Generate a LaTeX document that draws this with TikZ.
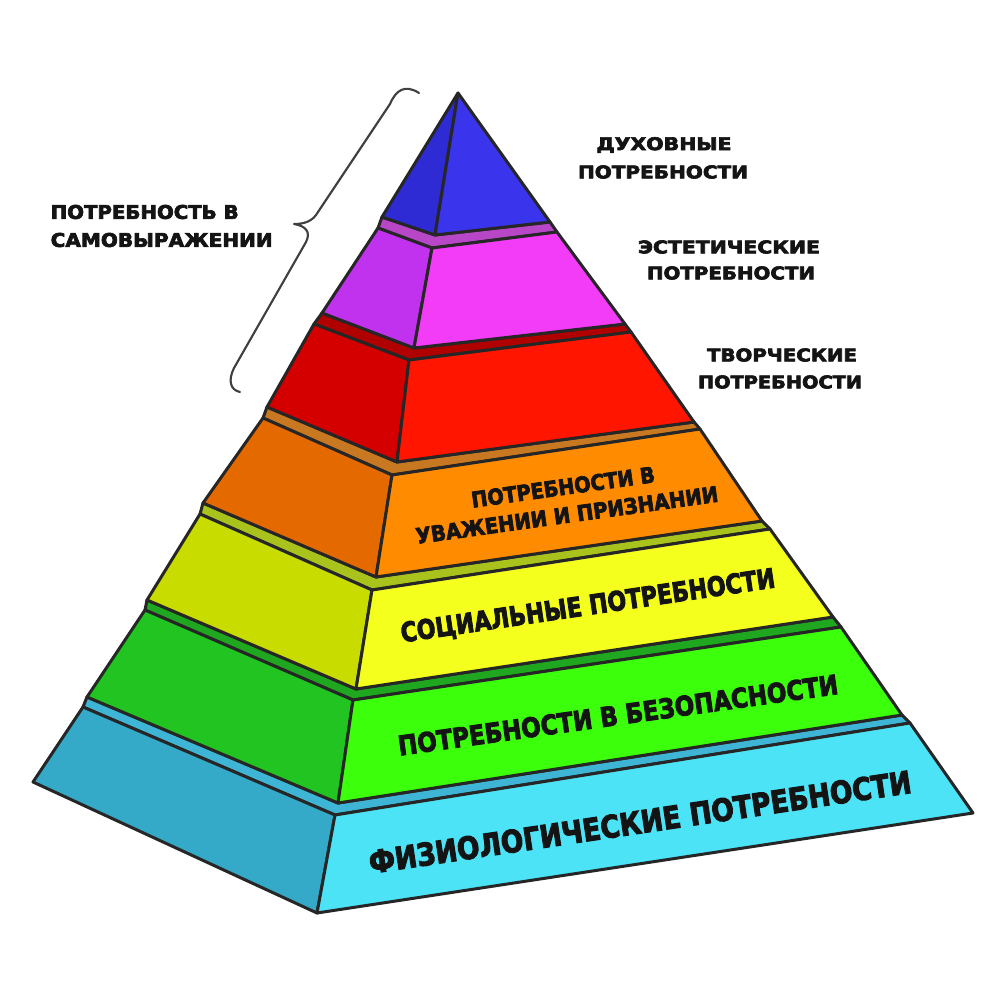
\documentclass[tikz,border=0pt]{standalone}
\usepackage{fontspec}
\setmainfont{DejaVu Sans}
\newfontfamily\heavy{DejaVu Sans}[BoldFeatures={FakeBold=3.5}]
\usepackage{graphicx}
\newlength\pxu \setlength\pxu{0.01cm}
\newcommand\fitt[3]{\resizebox{#1\pxu}{#2\pxu}{\heavy\bfseries #3}}
\definecolor{cyF}{RGB}{77,227,247}\definecolor{cyL}{RGB}{53,170,200}\definecolor{cyS}{RGB}{63,181,213}
\definecolor{grF}{RGB}{60,255,12}\definecolor{grL}{RGB}{34,196,34}\definecolor{grS}{RGB}{31,168,31}
\definecolor{yeF}{RGB}{245,255,30}\definecolor{yeL}{RGB}{200,220,0}\definecolor{yeS}{RGB}{169,195,28}
\definecolor{orF}{RGB}{255,140,0}\definecolor{orL}{RGB}{228,106,0}\definecolor{orS}{RGB}{200,120,32}
\definecolor{reF}{RGB}{255,21,0}\definecolor{reL}{RGB}{212,0,0}\definecolor{reS}{RGB}{176,0,0}
\definecolor{maF}{RGB}{242,60,247}\definecolor{maL}{RGB}{193,50,239}\definecolor{maS}{RGB}{184,71,200}
\definecolor{blF}{RGB}{58,52,236}\definecolor{blL}{RGB}{47,43,212}
\tikzset{
  face/.style={draw=black!85, line width=0.85pt, line join=round},
  lbl/.style={inner sep=0pt, text=black!92},
  bracepath/.style={draw=black!75, line width=0.6pt, line cap=round, line join=round}
}
\begin{document}
\begin{tikzpicture}[x=0.01cm,y=-0.01cm]
\path[use as bounding box, fill=white] (0,0) rectangle (996,1000);
% coordinates
\coordinate (A) at (458,93);
\coordinate (bBL) at (382,217); \coordinate (bBF) at (435,235); \coordinate (bBR) at (550,222);
\coordinate (mTL) at (378,228); \coordinate (mTF) at (432,248); \coordinate (mTR) at (557,232);
\coordinate (mBL) at (322,313); \coordinate (mBF) at (414,348); \coordinate (mBR) at (625,324);
\coordinate (rTL) at (314,324); \coordinate (rTF) at (409,360); \coordinate (rTR) at (631,332);
\coordinate (rBL) at (267,407); \coordinate (rBF) at (397,462); \coordinate (rBR) at (694,422);
\coordinate (oTL) at (263,418); \coordinate (oTF) at (392,475); \coordinate (oTR) at (700,429);
\coordinate (oBL) at (203,503); \coordinate (oBF) at (376,577); \coordinate (oBR) at (762,521);
\coordinate (yTL) at (200,514); \coordinate (yTF) at (372,590); \coordinate (yTR) at (770,529);
\coordinate (yBL) at (147,600); \coordinate (yBF) at (356,689); \coordinate (yBR) at (833,617);
\coordinate (gTL) at (145,610); \coordinate (gTF) at (353,700); \coordinate (gTR) at (841,627);
\coordinate (gBL) at (87,697);  \coordinate (gBF) at (338,803); \coordinate (gBR) at (902,715);
\coordinate (cTL) at (83,707);  \coordinate (cTF) at (335,815); \coordinate (cTR) at (910,723);
\coordinate (cBL) at (33,782);  \coordinate (cBF) at (317,913); \coordinate (cBR) at (973,813);
% cyan tier
\path[face, fill=cyS] (cTL)--(cTF)--(cTR)--(gBR)--(gBF)--(gBL)--cycle;
\path[face, fill=cyL] (cTL)--(cTF)--(cBF)--(cBL)--cycle;
\path[face, fill=cyF] (cTF)--(cTR)--(cBR)--(cBF)--cycle;
% green tier
\path[face, fill=grS] (gTL)--(gTF)--(gTR)--(yBR)--(yBF)--(yBL)--cycle;
\path[face, fill=grL] (gTL)--(gTF)--(gBF)--(gBL)--cycle;
\path[face, fill=grF] (gTF)--(gTR)--(gBR)--(gBF)--cycle;
% yellow tier
\path[face, fill=yeS] (yTL)--(yTF)--(yTR)--(oBR)--(oBF)--(oBL)--cycle;
\path[face, fill=yeL] (yTL)--(yTF)--(yBF)--(yBL)--cycle;
\path[face, fill=yeF] (yTF)--(yTR)--(yBR)--(yBF)--cycle;
% orange tier
\path[face, fill=orS] (oTL)--(oTF)--(oTR)--(rBR)--(rBF)--(rBL)--cycle;
\path[face, fill=orL] (oTL)--(oTF)--(oBF)--(oBL)--cycle;
\path[face, fill=orF] (oTF)--(oTR)--(oBR)--(oBF)--cycle;
% red tier
\path[face, fill=reS] (rTL)--(rTF)--(rTR)--(mBR)--(mBF)--(mBL)--cycle;
\path[face, fill=reL] (rTL)--(rTF)--(rBF)--(rBL)--cycle;
\path[face, fill=reF] (rTF)--(rTR)--(rBR)--(rBF)--cycle;
% magenta tier
\path[face, fill=maS] (mTL)--(mTF)--(mTR)--(bBR)--(bBF)--(bBL)--cycle;
\path[face, fill=maL] (mTL)--(mTF)--(mBF)--(mBL)--cycle;
\path[face, fill=maF] (mTF)--(mTR)--(mBR)--(mBF)--cycle;
% blue top
\path[face, fill=blL] (A)--(bBL)--(bBF)--cycle;
\path[face, fill=blF] (A)--(bBF)--(bBR)--cycle;
% brace
\path[bracepath] (419,93) .. controls (405,84) and (396,90) .. (390,104) -- (318,212)
  .. controls (313,221) and (305,224) .. (294,224)
  .. controls (306,226) and (311,232) .. (306,242) -- (234,368)
  .. controls (228,380) and (230,390) .. (240,392);
% labels on faces
\node[lbl, rotate=8.5] (tphys) at (640,822) {\fitt{548}{23}{ФИЗИОЛОГИЧЕСКИЕ ПОТРЕБНОСТИ}};
\node[lbl, rotate=8] (tsafe) at (618,715) {\fitt{444}{20}{ПОТРЕБНОСТИ В БЕЗОПАСНОСТИ}};
\node[lbl, rotate=8.4] (tsoc) at (588,607) {\fitt{378}{20}{СОЦИАЛЬНЫЕ ПОТРЕБНОСТИ}};
\node[lbl, rotate=8, align=center, font=\fontsize{5pt}{8pt}\selectfont] (tres) at (565,501)
  {\fitt{185}{16}{ПОТРЕБНОСТИ В}\\\fitt{305}{16}{УВАЖЕНИИ И ПРИЗНАНИИ}};
% side labels
\node[lbl] (tsp1) at (664,145) {\fitt{135}{13}{ДУХОВНЫЕ}};
\node[lbl] (tsp2) at (663,172) {\fitt{170}{13}{ПОТРЕБНОСТИ}};
\node[lbl] (tes1) at (729,247) {\fitt{182}{13}{ЭСТЕТИЧЕСКИЕ}};
\node[lbl] (tes2) at (731,273) {\fitt{168}{13}{ПОТРЕБНОСТИ}};
\node[lbl] (tcr1) at (782,355) {\fitt{150}{13}{ТВОРЧЕСКИЕ}};
\node[lbl] (tcr2) at (780,382) {\fitt{164}{13}{ПОТРЕБНОСТИ}};
\node[lbl, anchor=west] (tself1) at (50,212) {\fitt{188}{14}{ПОТРЕБНОСТЬ В}};
\node[lbl, anchor=west] (tself2) at (50,240) {\fitt{222}{14}{САМОВЫРАЖЕНИИ}};
\end{tikzpicture}
\end{document}
